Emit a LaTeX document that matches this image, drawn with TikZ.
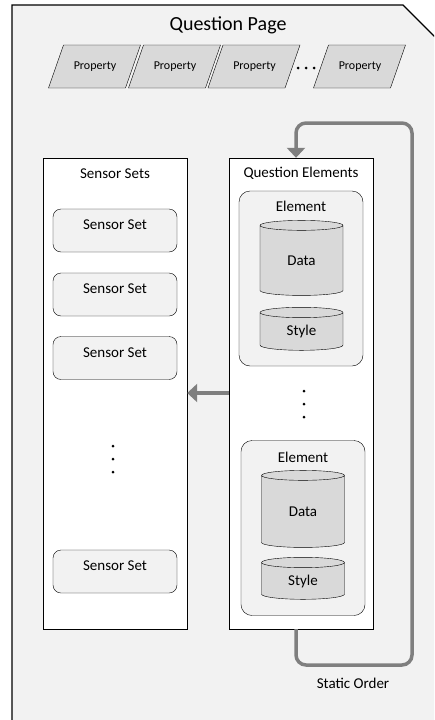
\documentclass[tikz,border=0pt]{standalone}
\usepackage{fontspec}
\setmainfont{Carlito}
\usepackage{xcolor}
\usetikzlibrary{arrows.meta,shapes.geometric}
\definecolor{pagegray}{HTML}{F2F2F2}
\definecolor{partgray}{HTML}{D9D9D9}
\definecolor{flowgray}{HTML}{7F7F7F}

\begin{document}
\begin{tikzpicture}[x=1pt,y=-1pt,
  every node/.style={font=\fontsize{15}{18}\selectfont},
  prop/.style={draw,fill=partgray},
  proptext/.style={inner sep=0pt,font=\fontsize{12}{14}\selectfont},
  panel/.style={draw,fill=white,minimum width=144pt,minimum height=471pt,inner sep=0pt},
  sset/.style={draw,fill=pagegray,rounded corners=8pt,minimum width=124pt,minimum height=43pt,inner sep=0pt,text height=10pt,text depth=12pt},
  elem/.style={draw,fill=pagegray,rounded corners=11pt,minimum width=124pt,minimum height=175pt,inner sep=0pt},
  store/.style={draw,fill=partgray,cylinder,shape border rotate=90,aspect=0.35,minimum width=83pt,inner sep=0pt},
  dot/.style={circle,fill=black,inner sep=0pt,minimum size=3pt},
  flow/.style={draw=flowgray,line width=3.5pt,rounded corners=10pt,-{Triangle[length=10pt,width=18pt]}}
]
\useasboundingbox (0,0) rectangle (434,720);
\clip (0,0) rectangle (434,720);
\draw[fill=pagegray,line width=1.1pt] (12,5) -- (403,5) -- (450,52) -- (450,740) -- (12,740) -- cycle;
\node (pageTitle) at (228,25) {\fontsize{20}{24}\selectfont Question Page};

\foreach \cx/\i in {95/1,175/2,254.5/3,360/4}{
  \draw[prop] (\cx-46.5,88) -- ++(15,-43) -- ++(77,0) -- ++(-15,43) -- cycle;
  \node[proptext] (p\i) at (\cx,66.5) {Property};
}
\node[dot] (pd1) at (298,68) {};
\node[dot] (pd2) at (306,68) {};
\node[dot] (pd3) at (314,68) {};

\node[panel] (sets) at (115,393.5) {};
\node (setsTitle) at (115,173.5) {Sensor Sets};
\node[sset] (s1) at (115,230.5) {Sensor Set};
\node[sset] (s2) at (115,294.5) {Sensor Set};
\node[sset] (s3) at (115,358)   {Sensor Set};
\node[sset] (s4) at (115,571.5) {Sensor Set};
\node[dot] (sd1) at (113,446) {};
\node[dot] (sd2) at (113,459) {};
\node[dot] (sd3) at (113,472) {};

\node[panel] (qe) at (301,393.5) {};
\node (qeTitle) at (301,173.5) {Question Elements};
\node[elem] (e1) at (301,278.5) {};
\node (e1Title) at (301,206) {Element};
\node[store,minimum height=75pt] (data1) at (301.5,260.5) {Data};
\node[store,minimum height=43pt] (style1) at (301.5,331.5) {Style};
\node[dot] (ed1) at (304,391) {};
\node[dot] (ed2) at (304,404) {};
\node[dot] (ed3) at (304,417) {};
\node[elem] (e2) at (303,528) {};
\node (e2Title) at (303,457) {Element};
\node[store,minimum height=77pt] (data2) at (303,511.5) {Data};
\node[store,minimum height=42pt] (style2) at (303,581) {Style};

\draw[flow,rounded corners=0pt] (qe.west |- 0,393) -- (sets.east |- 0,393);

\coordinate (loopL) at (296,0);
\coordinate (turnB) at (412,665);
\coordinate (turnT) at (412,123);
\draw[flow] (loopL |- qe.south) |- (turnB) -- (turnT) -| (loopL |- qe.north);
\node (order) at (353,683) {Static Order};
\end{tikzpicture}
\end{document}
